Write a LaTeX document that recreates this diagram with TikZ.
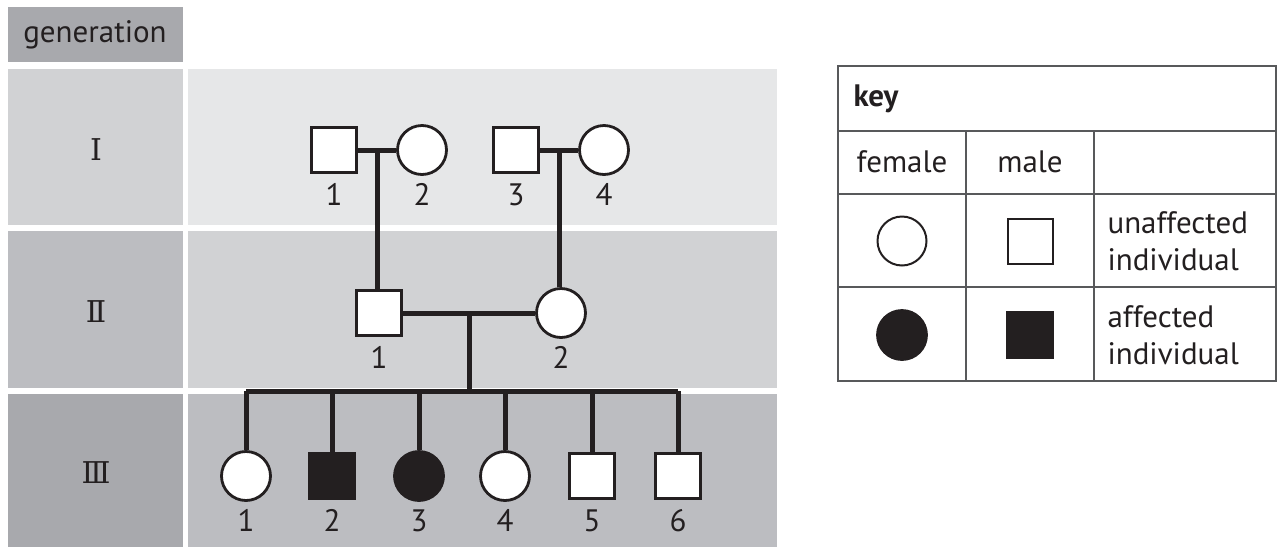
\documentclass[tikz,border=0pt]{standalone}
\usepackage{fontspec}
\usetikzlibrary{calc}
\setmainfont[Numbers=Lining]{PT Sans}
\newfontfamily\romanfont{DejaVu Serif}

\definecolor{inkblack}{HTML}{231F20}
\definecolor{greyA}{HTML}{A8A9AD}
\definecolor{greyB}{HTML}{BCBDC1}
\definecolor{greyC}{HTML}{D1D2D4}
\definecolor{greyD}{HTML}{E6E7E8}
\definecolor{keygrey}{HTML}{58595B}

\begin{document}
\begin{tikzpicture}[x = 1pt, y = -1pt,
        txt/.style={font=\fontsize{31}{37}\selectfont, text=inkblack},
        num/.style={txt, inner sep=1pt, text height=22pt, text depth=0pt, anchor=north},
        gen/.style={font=\romanfont\fontsize{30}{30}\selectfont, text=inkblack},
        male/.style={draw=inkblack, line width=2.8pt, fill=white, minimum size=45pt, inner sep=0pt},
        female/.style={circle, draw=inkblack, line width=2.8pt, fill=white, minimum size=49pt, inner sep=0pt},
        maleaff/.style={male, fill=inkblack},
        femaleaff/.style={female, fill=inkblack},
        link/.style={draw=inkblack, line width=5pt},
        keyline/.style={draw=keygrey, line width=1.5pt}]

        \useasboundingbox (0, 0) rectangle (1280, 547);

        % generation bands
        \fill[greyA] (8, 7) rectangle (183, 62);
        \fill[greyC] (8, 69) rectangle (183, 225);
        \fill[greyD] (188, 69) rectangle (777, 225);
        \fill[greyB] (8, 231) rectangle (183, 388);
        \fill[greyC] (188, 231) rectangle (777, 388);
        \fill[greyA] (8, 394) rectangle (183, 547);
        \fill[greyB] (188, 394) rectangle (777, 547);

        \node [txt] (genhead) at (95, 35) {generation};
        \node [gen] (genI) at (96, 150) {Ⅰ};
        \node [gen] (genII) at (96, 312) {Ⅱ};
        \node [gen] (genIII) at (96, 473) {Ⅲ};

        % generation I
        \node [male] (i1) at (334, 150) {};
        \node [female] (i2) at (422, 150) {};
        \node [male] (i3) at (516, 150) {};
        \node [female] (i4) at (604, 150) {};

        % generation II
        \node [male] (ii1) at (379, 313) {};
        \node [female] (ii2) at (561, 313) {};

        % generation III
        \foreach \n/\x/\kind in {1/246/female, 2/332/maleaff, 3/419/femaleaff,
                4/505/female, 5/592/male, 6/678/male} {
                \node [\kind] (iii\n) at (\x, 476) {};
            }

        % numbers under the individuals
        \foreach \g/\n in {i/1, i/2, i/3, i/4, ii/1, ii/2, iii/1, iii/2, iii/3, iii/4, iii/5, iii/6} {
                \node [num] (\g\n num) at ($(\g\n) + (0, 32)$) {\n};
            }

        \coordinate (m12) at ($(i1.east)!0.5!(i2.west)$);
        \coordinate (m34) at ($(i3.east)!0.5!(i4.west)$);
        \coordinate (mii) at ($(ii1.east)!0.5!(ii2.west)$);
        \coordinate (sib) at (mii |- 0, 391);

        \draw [link] (i1.east) -- (i2.west)
        (i3.east) -- (i4.west)
        (m12) -- (m12 |- ii1.north)
        (m34) -- (m34 |- ii2.north)
        (ii1.east) -- (ii2.west)
        (mii) -- (sib)
        (iii1.north |- sib) -- (iii6.north |- sib);

        \foreach \n in {1, ..., 6} {
                \draw [link] (iii\n.north |- sib) -- (iii\n.north);
            }

        % key
        \draw [keyline] (838, 66) rectangle (1276, 381);
        \foreach \y in {131, 194, 287} {
                \draw [keyline] (838, \y) -- (1276, \y);
            }
        \foreach \x in {966, 1094} {
                \draw [keyline] (\x, 131) -- (\x, 381);
            }

        \node [txt, font=\bfseries\fontsize{31}{37}\selectfont, anchor=west] (keytitle) at (850, 99) {key};
        \node [txt] (keyfemale) at (902, 162) {female};
        \node [txt] (keymale) at (1030, 162) {male};
        \node [female, line width=2pt] (kf) at (902, 241) {};
        \node [male, line width=2pt] (km) at (1030, 241) {};
        \node [femaleaff] (kfa) at (902, 335) {};
        \node [maleaff] (kma) at (1030, 335) {};
        \node [txt, anchor=west, align=left] (keyunaff) at (1104, 241) {unaffected\\individual};
        \node [txt, anchor=west, align=left] (keyaff) at (1104, 335) {affected\\individual};

    \end{tikzpicture}
\end{document}
